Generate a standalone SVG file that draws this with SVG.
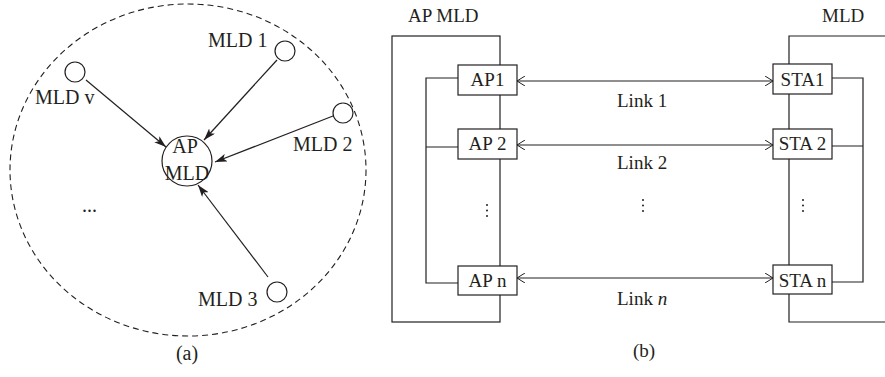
<svg xmlns="http://www.w3.org/2000/svg" width="885" height="377" viewBox="0 0 885 377">
<style>
text{font-family:"Liberation Serif","Times New Roman",serif;fill:#231f20}
.a{font-size:20px}
.b{font-size:19px}
.m{text-anchor:middle}
.ln{stroke:#231f20;stroke-width:1.2;fill:none}
.bx{stroke:#231f20;stroke-width:1.2;fill:#fff}
</style>
<defs>
<marker id="fa" viewBox="0 0 12 8" refX="12" refY="4" markerWidth="12" markerHeight="8" markerUnits="userSpaceOnUse" orient="auto">
<path d="M0,0 L12,4 L0,8 L3,4 Z" fill="#231f20"/>
</marker>
<marker id="oa" viewBox="0 0 8 10" refX="8" refY="5" markerWidth="8" markerHeight="10" markerUnits="userSpaceOnUse" orient="auto-start-reverse">
<path d="M0,0 L8,5 L0,10" fill="none" stroke="#231f20" stroke-width="1"/>
</marker>
</defs>

<!-- Panel (a) -->
<ellipse cx="188" cy="170" rx="178" ry="166" fill="none" stroke="#231f20" stroke-width="1.1" stroke-dasharray="6,4"/>
<g id="connectors-a">
<line class="ln" x1="86" y1="80" x2="166" y2="147" marker-end="url(#fa)"/>
<line class="ln" x1="277" y1="60" x2="204" y2="140" marker-end="url(#fa)"/>
<line class="ln" x1="333" y1="116" x2="215" y2="162" marker-end="url(#fa)"/>
<line class="ln" x1="268" y1="277" x2="198" y2="185" marker-end="url(#fa)"/>
</g>
<g id="ap-mld">
<circle class="ln" cx="187" cy="161" r="25"/>
<text class="a m" x="185" y="153">AP</text>
<text class="a m" x="187" y="180">MLD</text>
</g>
<g id="mld1"><circle class="ln" cx="285" cy="51" r="10"/><text class="a" x="208" y="47">MLD 1</text></g>
<g id="mldv"><circle class="ln" cx="75" cy="72" r="10"/><text class="a" x="35" y="104">MLD v</text></g>
<g id="mld2"><circle class="ln" cx="343" cy="113" r="10"/><text class="a" x="293" y="151">MLD 2</text></g>
<g id="mld3"><circle class="ln" cx="277" cy="292" r="10"/><text class="a" x="198" y="306">MLD 3</text></g>
<text class="a" x="82" y="212">...</text>
<text class="a m" x="187" y="360">(a)</text>

<!-- Panel (b) -->
<g id="ap-mld-box">
<rect class="ln" x="392" y="36" width="108" height="286"/>
<path class="ln" d="M458,78 H426 V283 H458 M426,147 H458"/>
<text class="b" x="408" y="22">AP MLD</text>
</g>
<g id="mld-box">
<path class="ln" d="M886,36 H789 V322 H886"/>
<path class="ln" d="M832,78 H863 V282 H832 M832,146 H863"/>
<text class="b" x="822" y="22">MLD</text>
</g>
<g id="connectors-b">
<line class="ln" x1="517" y1="81" x2="773" y2="81" marker-start="url(#oa)" marker-end="url(#oa)"/>
<line class="ln" x1="517" y1="145" x2="773" y2="145" marker-start="url(#oa)" marker-end="url(#oa)"/>
<line class="ln" x1="517" y1="278" x2="773" y2="278" marker-start="url(#oa)" marker-end="url(#oa)"/>
</g>
<g id="ap1"><rect class="bx" x="458" y="65" width="59" height="30"/><text class="b m" x="487.5" y="86">AP1</text></g>
<g id="ap2"><rect class="bx" x="458" y="129" width="59" height="30"/><text class="b m" x="487.5" y="150">AP 2</text></g>
<g id="apn"><rect class="bx" x="458" y="266" width="59" height="29"/><text class="b m" x="487.5" y="287">AP n</text></g>
<g id="sta1"><rect class="bx" x="773" y="64" width="59" height="30"/><text class="b m" x="802.5" y="86">STA1</text></g>
<g id="sta2"><rect class="bx" x="773" y="129" width="59" height="30"/><text class="b m" x="802.5" y="150">STA 2</text></g>
<g id="stan"><rect class="bx" x="773" y="265" width="59" height="29"/><text class="b m" x="802.5" y="287">STA n</text></g>
<text class="b" x="617" y="107">Link 1</text>
<text class="b" x="617" y="169">Link 2</text>
<text class="b" x="617" y="305">Link <tspan font-style="italic">n</tspan></text>
<g fill="#231f20">
<circle cx="487" cy="205" r="1"/><circle cx="487" cy="210.5" r="1"/><circle cx="487" cy="216" r="1"/>
<circle cx="643" cy="200" r="1"/><circle cx="643" cy="205.5" r="1"/><circle cx="643" cy="211" r="1"/>
<circle cx="803" cy="200" r="1"/><circle cx="803" cy="205.5" r="1"/><circle cx="803" cy="211" r="1"/>
</g>
<text class="b m" x="644" y="357">(b)</text>
</svg>
